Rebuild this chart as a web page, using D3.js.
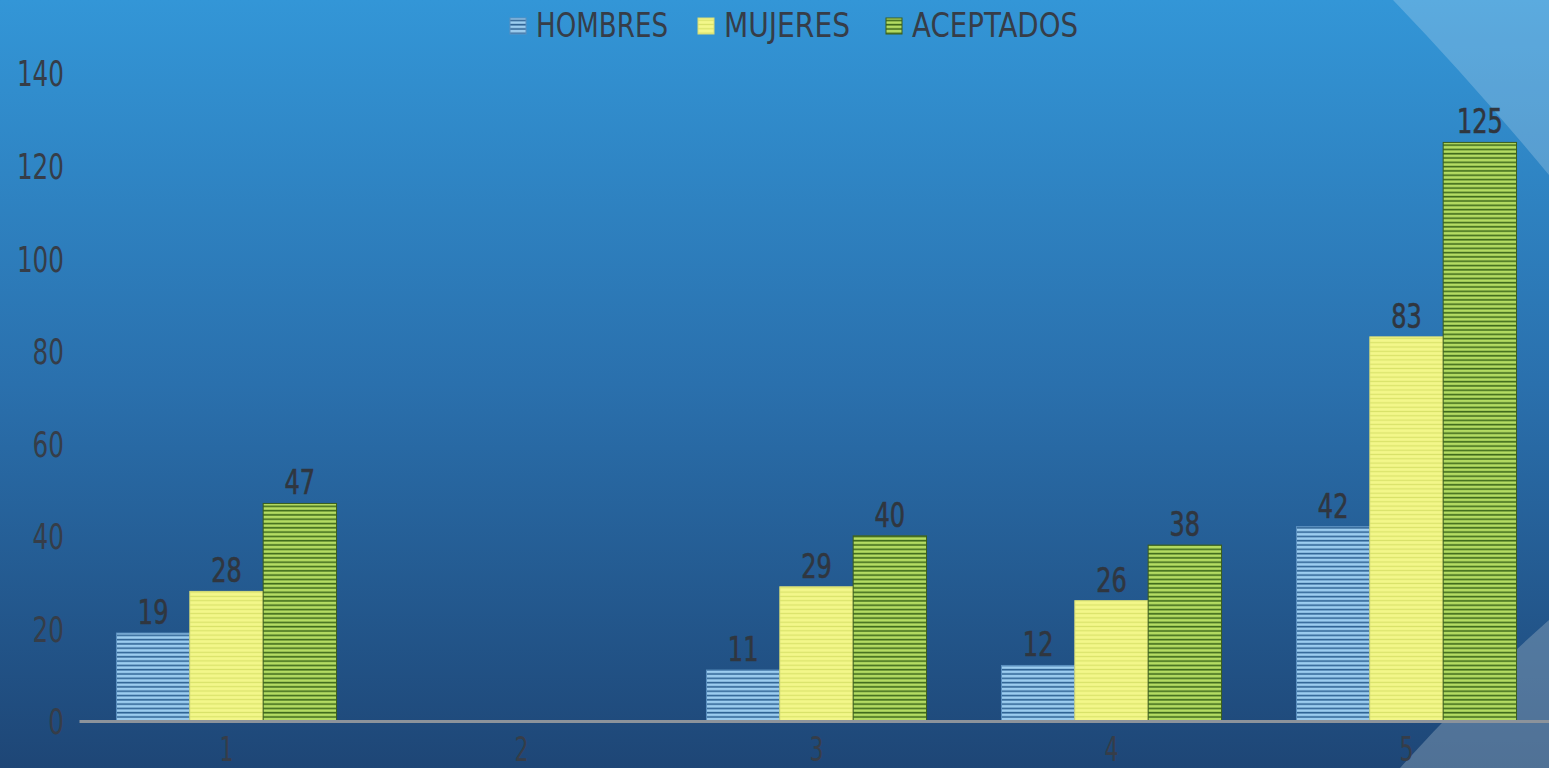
<!DOCTYPE html>
<html>
<head>
<meta charset="utf-8">
<script src="https://cdn.jsdelivr.net/npm/d3@7"></script>
<style>
  html, body { margin: 0; padding: 0; overflow: hidden; background: #1f4878; }
  svg { display: block; }
  text { font-family: "DejaVu Sans Condensed", "Liberation Sans Narrow", "Roboto", sans-serif; }
</style>
</head>
<body>
<svg id="chart" width="1549" height="768"></svg>
<script>
'use strict';

// chart values
const categories = ['1', '2', '3', '4', '5'];
const seriesNames = ['HOMBRES', 'MUJERES', 'ACEPTADOS'];
const hombres = [19, null, 11, 12, 42];
const mujeres = [28, null, 29, 26, 83];
const aceptados = [47, null, 40, 38, 125];
const yTicks = [0, 20, 40, 60, 80, 100, 120, 140];

const W = 1549, H = 768;
const svg = d3.select('#chart');
const defs = svg.append('defs');

// background gradient
const bg = defs.append('linearGradient').attr('id', 'bg')
  .attr('x1', 0).attr('y1', 0).attr('x2', 0).attr('y2', 1);
bg.append('stop').attr('offset', '0%').attr('stop-color', '#3396d7');
bg.append('stop').attr('offset', '50%').attr('stop-color', '#2a70ad');
bg.append('stop').attr('offset', '100%').attr('stop-color', '#1e4676');
svg.append('rect').attr('width', W).attr('height', H).attr('fill', 'url(#bg)');

// decorative shapes on the right
svg.append('path')
  .attr('d', 'M1393,0 Q1470,80 1549,175 L1549,0 Z')
  .attr('fill', '#ffffff').attr('opacity', 0.2);
svg.append('path')
  .attr('d', 'M1400,768 Q1470,690 1549,620 L1549,768 Z')
  .attr('fill', '#8fa6bd').attr('opacity', 0.45);

// stripe patterns
const patterns = [
  { id: 'pH', base: '#9ccdf0', stripe: '#2f6394', sw: 1.6 },
  { id: 'pM', base: '#f3f78a', stripe: '#d9e26a', sw: 1.2 },
  { id: 'pA', base: '#b4dc62', stripe: '#3f6a1c', sw: 1.6 }
];
patterns.forEach(p => {
  const pat = defs.append('pattern').attr('id', p.id)
    .attr('patternUnits', 'userSpaceOnUse').attr('width', 8).attr('height', 4.3);
  pat.append('rect').attr('width', 8).attr('height', 4.3).attr('fill', p.base);
  pat.append('rect').attr('y', 2.4).attr('width', 8).attr('height', p.sw).attr('fill', p.stripe);
});
const borders = ['#5a8fbf', '#d6dc78', '#3b5e1c'];

const x = d3.scaleBand().domain(categories).range([79, 1554]).paddingInner(0.254).paddingOuter(0.127);
const xs = d3.scaleBand().domain(seriesNames).range([0, x.bandwidth()]);
const y = d3.scaleLinear().domain([0, 140]).range([721, 73]);

const textColor = '#363d48';

// squeeze text to the narrow look of the original font
const narrow = (sel, perChar) => sel
  .attr('textLength', function() { return this.textContent.length * perChar; })
  .attr('lengthAdjust', 'spacingAndGlyphs');

// y axis labels
const yAxis = d3.axisLeft(y).tickValues(yTicks).tickSize(0).tickPadding(0);
const gy = svg.append('g').attr('transform', 'translate(64,0)').call(yAxis);
gy.select('.domain').remove();
gy.selectAll('text').attr('fill', textColor).attr('font-size', 36)
  .attr('font-family', null)
  .attr('dy', '0.36em')
  .call(narrow, 15.7);

// bars
const table = [hombres, mujeres, aceptados];
const pats = ['pH', 'pM', 'pA'];
seriesNames.forEach((name, si) => {
  const vals = table[si].map((v, i) => ({ cat: categories[i], v }))
    .filter(d => d.v !== null);
  const g = svg.append('g');
  g.selectAll('rect').data(vals).enter().append('rect')
    .attr('x', d => x(d.cat) + xs(name))
    .attr('y', d => y(d.v))
    .attr('width', xs.bandwidth())
    .attr('height', d => y(0) - y(d.v))
    .attr('fill', `url(#${pats[si]})`)
    .attr('stroke', borders[si]).attr('stroke-width', 1);
  g.selectAll('text').data(vals).enter().append('text')
    .attr('x', d => x(d.cat) + xs(name) + xs.bandwidth() / 2)
    .attr('y', d => y(d.v) - 9)
    .attr('text-anchor', 'middle')
    .attr('fill', '#30363f').attr('font-size', 33)
    .attr('stroke', '#30363f').attr('stroke-width', 0.6)
    .text(d => d.v)
    .call(narrow, 15.3);
});

// x axis
const xAxis = d3.axisBottom(x).tickSize(0).tickPadding(0);
const gx = svg.append('g').attr('transform', 'translate(0,721)').call(xAxis);
gx.select('.domain').attr('stroke', '#8c939b').attr('stroke-width', 3);
gx.selectAll('text').attr('fill', textColor).attr('font-size', 34)
  .attr('font-family', null)
  .attr('y', 40).attr('dy', 0)
  .call(narrow, 14);

// legend
const legendX = [510, 698, 886];
const legendW = [132, 126, 166];
const lg = svg.append('g');
seriesNames.forEach((name, i) => {
  lg.append('rect').attr('x', legendX[i]).attr('y', 18).attr('width', 16).attr('height', 16)
    .attr('fill', `url(#${pats[i]})`).attr('stroke', borders[i]).attr('stroke-width', 1);
  lg.append('text').attr('x', legendX[i] + 26).attr('y', 37)
    .attr('fill', textColor).attr('font-size', 34)
    .attr('textLength', legendW[i]).attr('lengthAdjust', 'spacingAndGlyphs')
    .text(name);
});
</script>
</body>
</html>
